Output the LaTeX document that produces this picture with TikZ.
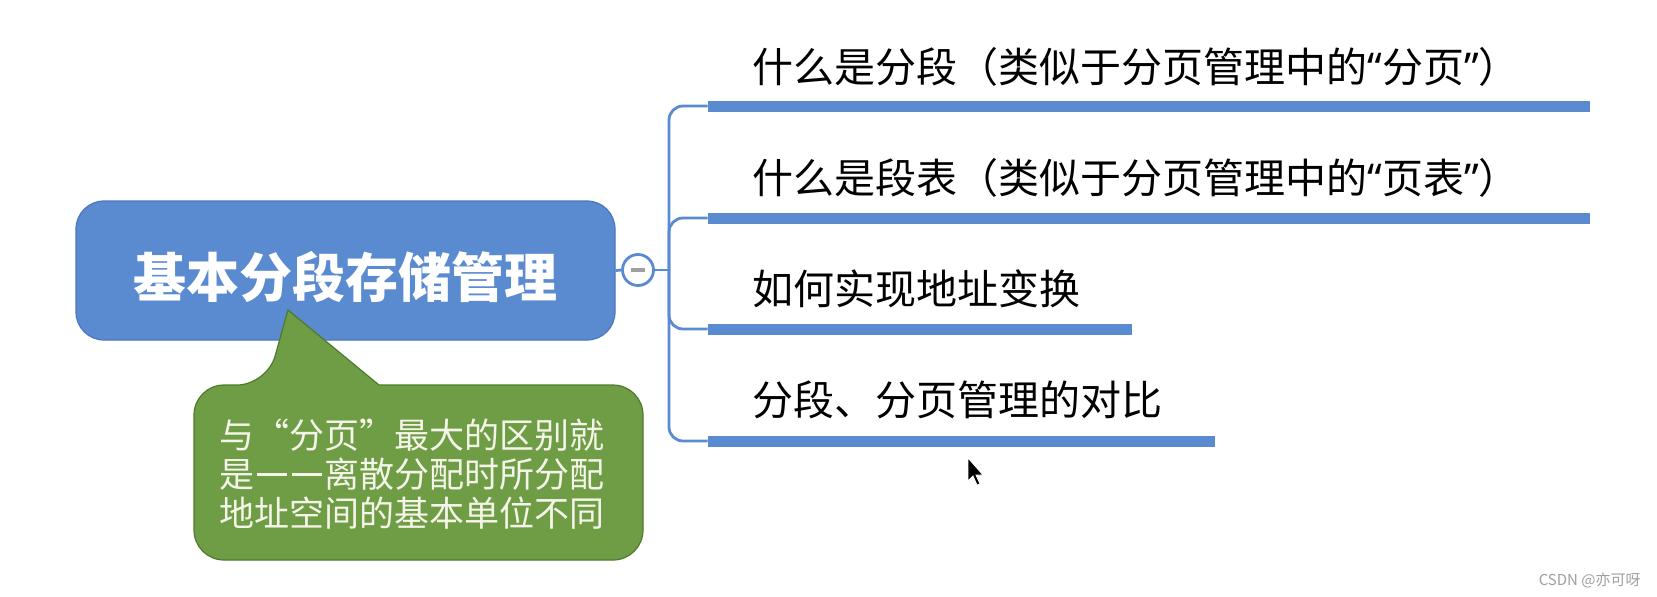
\documentclass[tikz,border=0pt]{standalone}
\usepackage{fontspec}
\newfontfamily\cjk{Noto Sans CJK SC}
\newfontfamily\latq{Noto Sans}
\newcommand{\myLq}{{\latq “}}
\newcommand{\myRq}{{\latq ”}}
\newcommand{\mydash}{\makebox[1em]{\rule[0.34em]{0.88em}{0.065em}}}
\definecolor{mblue}{HTML}{5A8AD0}
\definecolor{mbluedark}{HTML}{4A78BA}
\definecolor{mgreen}{HTML}{6F9D45}
\definecolor{mgreendark}{HTML}{4E7A2C}
\definecolor{notetext}{HTML}{F4F4E8}
\tikzset{
  rootbox/.style={rectangle, rounded corners=14pt, fill=mblue, draw=mbluedark, line width=0.6pt,
    minimum width=269.5pt, minimum height=69.5pt, inner sep=0pt},
  roottxt/.style={font=\cjk\bfseries\fontsize{26.5pt}{30pt}\selectfont, text=white, inner sep=0pt},
  collapse/.style={circle, fill=white, draw=mblue, line width=1.4pt, minimum size=15.5pt, inner sep=0pt},
  conn/.style={draw=mblue, line width=1.4pt, rounded corners=7pt},
  barnode/.style={rectangle, fill=mblue, minimum height=5.5pt, inner sep=0pt},
  branchtxt/.style={font=\cjk\fontsize{20.5pt}{24pt}\selectfont, text=black, anchor=west, inner sep=0pt},
  notebox/.style={fill=mgreen, draw=mgreendark, line width=0.6pt},
  notetxt/.style={font=\cjk\fontsize{17.5pt}{19.5pt}\selectfont, text=notetext, align=left, inner sep=0pt},
}
\begin{document}
\begin{tikzpicture}[x=0.5pt,y=-0.5pt]
\fill[white] (0,0) rectangle (1657,596);
\useasboundingbox (0,0) rectangle (1657,596);

% root
\node[rootbox] (root) at (345.5,270.5) {};
\node[roottxt] (roottext) at (345,277) {基本分段存储管理};

% collapse button
\node[collapse] (circ) at (638,270) {};
\draw[gray!75, line width=1.6pt] ([xshift=-3.5pt]circ.center) -- ([xshift=3.5pt]circ.center);
\draw[conn] (root.east) -- (circ.west);
\coordinate (j) at (669,270);
\draw[conn] (circ.east) -- (j);

% bars
\node[barnode, minimum width=441pt] (b1) at (1149,106) {};
\node[barnode, minimum width=441pt] (b2) at (1149,218) {};
\node[barnode, minimum width=212pt] (b3) at (920,329) {};
\node[barnode, minimum width=253.5pt] (b4) at (961.5,441) {};

\draw[conn] (j) |- (b1.west);
\draw[conn] (j) |- (b2.west);
\draw[conn] (j) |- (b3.west);
\draw[conn] (j) |- (b4.west);

% branch texts
\node[branchtxt] (t1) at (752,67) {什么是分段（类似于分页管理中的\myLq 分页\myRq）};
\node[branchtxt] (t2) at (752,178) {什么是段表（类似于分页管理中的\myLq 页表\myRq）};
\node[branchtxt] (t3) at (752,289) {如何实现地址变换};
\node[branchtxt] (t4) at (752,400) {分段、分页管理的对比};

% callout
\path[notebox] (500,385) [rounded corners=15pt] -- (643,385) -- (643,560) -- (194,560) -- (194,385) -- (267,385) [sharp corners] -- (288,310) -- (379,385) -- cycle;
\node[notetxt] (note) at (412,474) {与“分页”最大的区别就\\是\mydash\mydash 离散分配时所分配\\地址空间的基本单位不同};

% cursor
\filldraw[fill=black, draw=white, line width=0.4pt] (968,458) -- (968,481) -- (973,476) -- (977,485) -- (980,484) -- (976,475) -- (983,475) -- cycle;

% watermark
\node[font=\cjk\fontsize{7.5pt}{9pt}\selectfont, text=gray!75, anchor=east, inner sep=0pt] (wm) at (1641,580) {CSDN @亦可呀};
\end{tikzpicture}
\end{document}
